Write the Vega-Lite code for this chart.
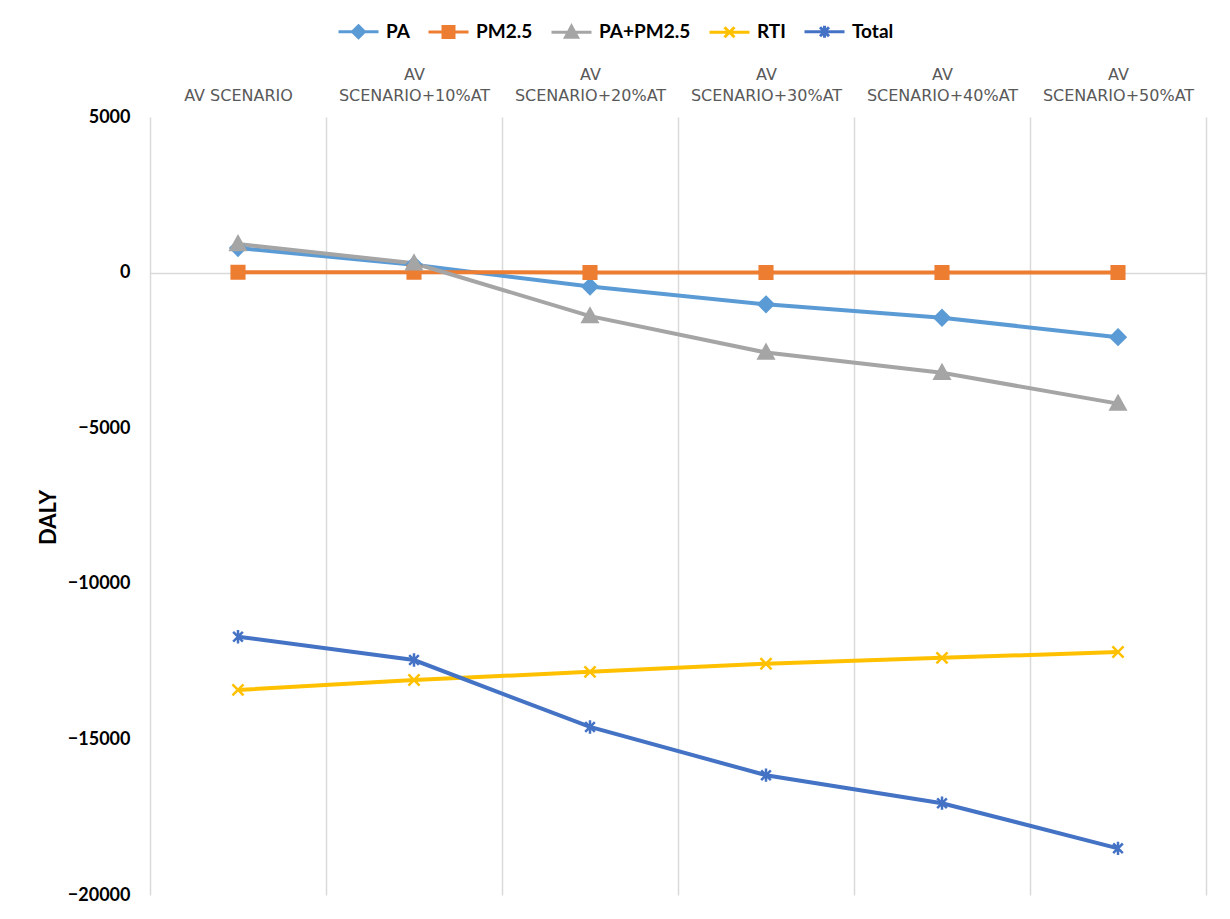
{
  "$schema": "https://vega.github.io/schema/vega-lite/v6.json",
  "width": 1056,
  "height": 778,
  "autosize": "none",
  "padding": {"left": 150, "top": 117, "right": 24, "bottom": 24},
  "background": "white",
  "config": {"view": {"stroke": null}, "font": "Lato"},
  "data": {
    "values": [
      {"scenario": "AV SCENARIO", "series": "PA", "value": 790},
      {"scenario": "AV SCENARIO", "series": "PM2.5", "value": 10},
      {"scenario": "AV SCENARIO", "series": "PA+PM2.5", "value": 920},
      {"scenario": "AV SCENARIO", "series": "RTI", "value": -13410},
      {"scenario": "AV SCENARIO", "series": "Total", "value": -11700},
      {"scenario": "AV SCENARIO+10%AT", "series": "PA", "value": 250},
      {"scenario": "AV SCENARIO+10%AT", "series": "PM2.5", "value": 10},
      {"scenario": "AV SCENARIO+10%AT", "series": "PA+PM2.5", "value": 300},
      {"scenario": "AV SCENARIO+10%AT", "series": "RTI", "value": -13090},
      {"scenario": "AV SCENARIO+10%AT", "series": "Total", "value": -12450},
      {"scenario": "AV SCENARIO+20%AT", "series": "PA", "value": -450},
      {"scenario": "AV SCENARIO+20%AT", "series": "PM2.5", "value": 5},
      {"scenario": "AV SCENARIO+20%AT", "series": "PA+PM2.5", "value": -1400},
      {"scenario": "AV SCENARIO+20%AT", "series": "RTI", "value": -12830},
      {"scenario": "AV SCENARIO+20%AT", "series": "Total", "value": -14600},
      {"scenario": "AV SCENARIO+30%AT", "series": "PA", "value": -1020},
      {"scenario": "AV SCENARIO+30%AT", "series": "PM2.5", "value": 5},
      {"scenario": "AV SCENARIO+30%AT", "series": "PA+PM2.5", "value": -2570},
      {"scenario": "AV SCENARIO+30%AT", "series": "RTI", "value": -12570},
      {"scenario": "AV SCENARIO+30%AT", "series": "Total", "value": -16150},
      {"scenario": "AV SCENARIO+40%AT", "series": "PA", "value": -1450},
      {"scenario": "AV SCENARIO+40%AT", "series": "PM2.5", "value": 5},
      {"scenario": "AV SCENARIO+40%AT", "series": "PA+PM2.5", "value": -3220},
      {"scenario": "AV SCENARIO+40%AT", "series": "RTI", "value": -12380},
      {"scenario": "AV SCENARIO+40%AT", "series": "Total", "value": -17050},
      {"scenario": "AV SCENARIO+50%AT", "series": "PA", "value": -2075},
      {"scenario": "AV SCENARIO+50%AT", "series": "PM2.5", "value": 5},
      {"scenario": "AV SCENARIO+50%AT", "series": "PA+PM2.5", "value": -4210},
      {"scenario": "AV SCENARIO+50%AT", "series": "RTI", "value": -12190},
      {"scenario": "AV SCENARIO+50%AT", "series": "Total", "value": -18500}
    ]
  },
  "encoding": {
    "x": {
      "field": "scenario",
      "type": "nominal",
      "sort": ["AV SCENARIO", "AV SCENARIO+10%AT", "AV SCENARIO+20%AT", "AV SCENARIO+30%AT", "AV SCENARIO+40%AT", "AV SCENARIO+50%AT"],
      "scale": {"type": "band", "paddingInner": 0, "paddingOuter": 0},
      "axis": {
        "orient": "top",
        "title": null,
        "labelExpr": "!datum.value ? '' : (datum.value == 'AV SCENARIO' ? ['', 'AV SCENARIO'] : ['AV', replace(datum.value, 'AV ', '')])",
        "labelFont": "DejaVu Sans",
        "labelFontSize": 16,
        "labelColor": "#595959",
        "labelLineHeight": 21,
        "labelPadding": 35,
        "labelAngle": 0,
        "ticks": false,
        "tickSize": 0,
        "domain": false,
        "grid": true,
        "gridColor": "#d9d9d9",
        "gridWidth": 1.5,
        "tickBand": "extent"
      }
    },
    "y": {
      "field": "value",
      "type": "quantitative",
      "scale": {"domain": [-20000, 5000], "nice": false, "zero": false},
      "axis": {
        "title": "DALY",
        "titleFont": "Lato",
        "titleFontSize": 22,
        "titleFontWeight": "bold",
        "titleColor": "black",
        "titleX": -102,
        "titleY": 400,
        "titleAlign": "center",
        "titleBaseline": "middle",
        "values": [-20000, -15000, -10000, -5000, 0, 5000],
        "format": "d",
        "labelFont": "Lato",
        "labelFontSize": 18,
        "labelFontWeight": "bold",
        "labelColor": "black",
        "labelPadding": 20,
        "ticks": false,
        "tickSize": 0,
        "domain": false,
        "grid": true,
        "gridColor": "#d9d9d9",
        "gridWidth": 1.5,
        "gridOpacity": {"condition": {"test": "datum.value === 0", "value": 1}, "value": 0}
      }
    }
  },
  "layer": [
    {
      "mark": {"type": "line", "strokeWidth": 4},
      "encoding": {
        "color": {
          "field": "series",
          "type": "nominal",
          "scale": {"domain": ["PA", "PM2.5", "PA+PM2.5", "RTI", "Total"], "range": ["#5B9BD5", "#ED7D31", "#A5A5A5", "#FFC000", "#4472C4"]},
          "legend": null
        }
      }
    },
    {
      "mark": {"type": "point", "filled": true, "strokeWidth": 2.5, "size": 220, "opacity": 1},
      "encoding": {
        "shape": {
          "field": "series",
          "type": "nominal",
          "scale": {
            "domain": ["PA", "PM2.5", "PA+PM2.5", "RTI", "Total"],
            "range": [
              "M0,-1L1,0L0,1L-1,0Z",
              "M-0.85,-0.85L0.85,-0.85L0.85,0.85L-0.85,0.85Z",
              "M0,-1L1,0.8L-1,0.8Z",
              "M-0.75,-0.75L0.75,0.75M-0.75,0.75L0.75,-0.75",
              "M-0.65,-0.65L0.65,0.65M-0.65,0.65L0.65,-0.65M0,-0.9L0,0.9"
            ]
          },
          "legend": null
        },
        "fill": {
          "field": "series",
          "type": "nominal",
          "scale": {"domain": ["PA", "PM2.5", "PA+PM2.5", "RTI", "Total"], "range": ["#5B9BD5", "#ED7D31", "#A5A5A5", "#FFC000", "#4472C4"]},
          "legend": null
        },
        "stroke": {
          "field": "series",
          "type": "nominal",
          "scale": {"domain": ["PA", "PM2.5", "PA+PM2.5", "RTI", "Total"], "range": ["#5B9BD5", "#ED7D31", "#A5A5A5", "#FFC000", "#4472C4"]},
          "legend": null
        }
      }
    },
    {
      "mark": {"type": "point", "filled": true, "opacity": 0},
      "encoding": {
        "shape": {
          "field": "series",
          "type": "nominal",
          "scale": {
            "domain": ["PA", "PM2.5", "PA+PM2.5", "RTI", "Total"],
            "range": [
              "M-4,0L4,0M0,-1.2L1.2,0L0,1.2L-1.2,0Z",
              "M-4,0L4,0M-1.1,-1.1L1.1,-1.1L1.1,1.1L-1.1,1.1Z",
              "M-4,0L4,0M0,-1.2L1.2,1L-1.2,1Z",
              "M-4,0L4,0M-1,-1L1,1M-1,1L1,-1",
              "M-4,0L4,0M-0.9,-0.9L0.9,0.9M-0.9,0.9L0.9,-0.9M0,-1.2L0,1.2"
            ]
          },
          "legend": {
            "orient": "none",
            "legendX": 184,
            "legendY": -95,
            "direction": "horizontal",
            "title": null,
            "labelFont": "Lato",
            "labelFontSize": 19,
            "labelFontWeight": "bold",
            "labelColor": "black",
            "symbolSize": 100,
            "symbolStrokeWidth": 3,
            "symbolOpacity": 1,
            "symbolOffset": 15,
            "labelOffset": 18,
            "columnPadding": 12
          }
        },
        "fill": {
          "field": "series",
          "type": "nominal",
          "scale": {"domain": ["PA", "PM2.5", "PA+PM2.5", "RTI", "Total"], "range": ["#5B9BD5", "#ED7D31", "#A5A5A5", "#FFC000", "#4472C4"]}
        },
        "stroke": {
          "field": "series",
          "type": "nominal",
          "scale": {"domain": ["PA", "PM2.5", "PA+PM2.5", "RTI", "Total"], "range": ["#5B9BD5", "#ED7D31", "#A5A5A5", "#FFC000", "#4472C4"]}
        }
      }
    }
  ],
  "resolve": {"scale": {"shape": "independent", "fill": "independent", "stroke": "independent"}}
}
